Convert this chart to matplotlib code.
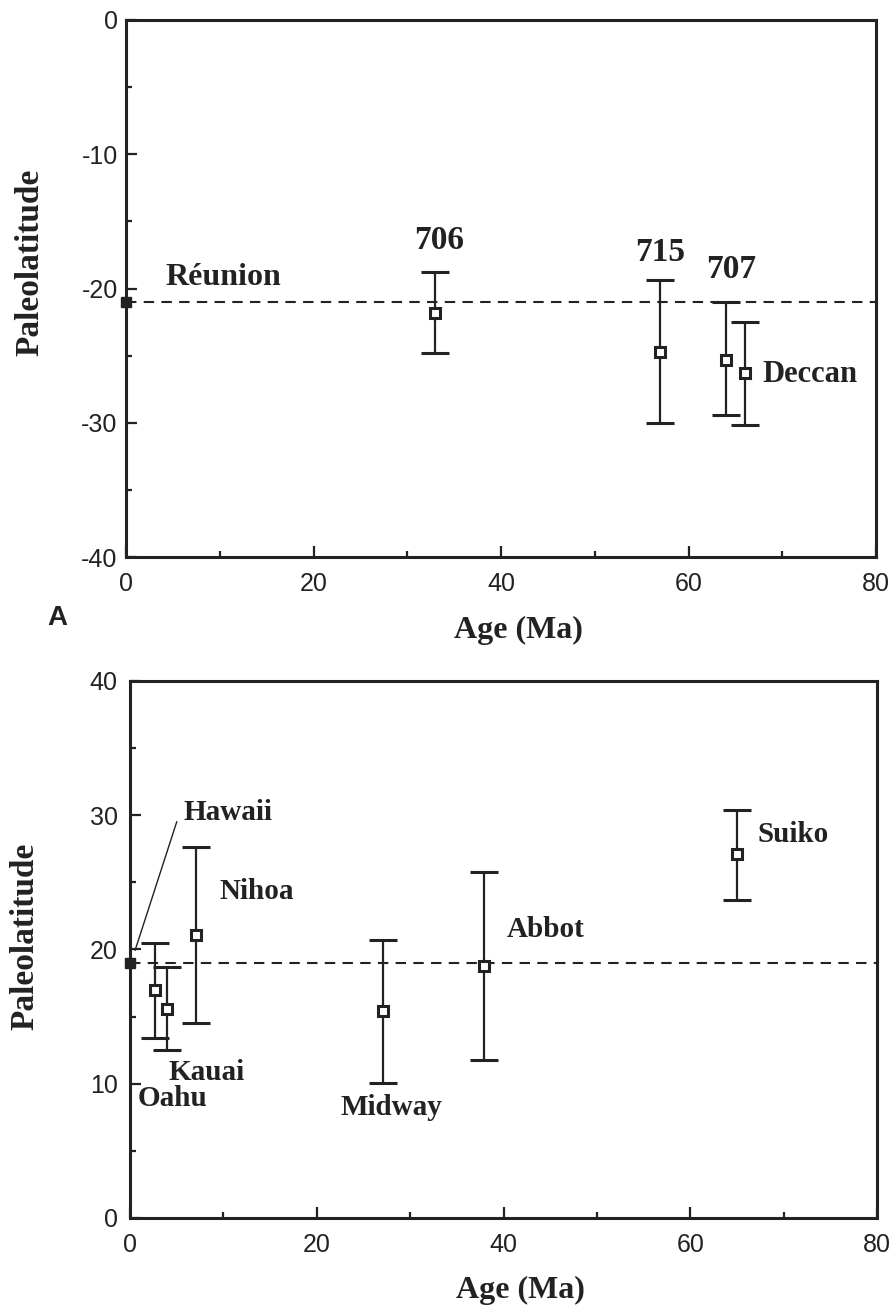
import matplotlib.pyplot as plt
from matplotlib.ticker import MultipleLocator

plt.rcParams['axes.unicode_minus'] = False

# panel A: Indian Ocean sites (Reunion hotspot)
a_names = ["Réunion", "706", "715", "707", "Deccan"]
a_age = [0, 33, 57, 64, 66]
a_lat = [-21.0, -21.8, -24.7, -25.3, -26.3]
a_hi = [-21.0, -18.8, -19.4, -21.0, -22.5]
a_lo = [-21.0, -24.8, -30.0, -29.4, -30.2]
a_ref = -21.0

# panel B: Hawaiian-Emperor chain
b_names = ["Hawaii", "Oahu", "Kauai", "Nihoa", "Midway", "Abbot", "Suiko"]
b_age = [0, 2.7, 4.0, 7.1, 27.1, 37.9, 65.0]
b_lat = [19.0, 17.0, 15.6, 21.1, 15.4, 18.8, 27.1]
b_hi = [19.0, 20.5, 18.7, 27.6, 20.7, 25.8, 30.4]
b_lo = [19.0, 13.4, 12.5, 14.5, 10.05, 11.8, 23.7]
b_ref = 19.0

ink = "#222222"
serif = ["Liberation Serif", "DejaVu Serif"]
sans = ["Liberation Sans Narrow", "Liberation Sans", "DejaVu Sans"]

fig = plt.figure(figsize=(8.93, 13.07), dpi=100)
ax1 = fig.add_axes([0.1411, 0.5738, 0.8399, 0.4109])
ax2 = fig.add_axes([0.1456, 0.0681, 0.8365, 0.4109])


def style(ax, ymin, ymax, ypad):
    ax.set_xlim(0, 80)
    ax.set_ylim(ymin, ymax)
    ax.xaxis.set_major_locator(MultipleLocator(20))
    ax.xaxis.set_minor_locator(MultipleLocator(10))
    ax.yaxis.set_major_locator(MultipleLocator(10))
    ax.yaxis.set_minor_locator(MultipleLocator(5))
    ax.tick_params(which="both", direction="in", color=ink, width=1.6,
                   top=False, right=False)
    ax.tick_params(which="major", length=8)
    ax.tick_params(which="minor", length=4)
    ax.tick_params(axis="x", pad=11)
    ax.tick_params(axis="y", pad=ypad)
    for lab in ax.get_xticklabels() + ax.get_yticklabels():
        lab.set_fontfamily(sans)
        lab.set_fontsize(18)
        lab.set_color(ink)
    for sp in ax.spines.values():
        sp.set_linewidth(2.2)
        sp.set_color(ink)
    ax.set_ylabel("Paleolatitude", fontfamily=serif, fontweight="bold",
                  fontsize=24, color=ink)


def draw(ax, age, lat, hi, lo, ref):
    ax.axhline(ref, color=ink, lw=1.5, ls=(0, (5, 3.5)))
    n = len(age)
    for i in range(n):
        if hi[i] == lo[i]:
            ax.plot(age[i], lat[i], "s", ms=7.5, mfc=ink, mec=ink,
                    clip_on=False, zorder=5)
        else:
            ax.errorbar(age[i], lat[i], yerr=[[lat[i] - lo[i]], [hi[i] - lat[i]]],
                        fmt="s", ms=6.5, mfc="white", mec=ink, mew=2.2,
                        ecolor=ink, elinewidth=1.6, capsize=10, capthick=1.7,
                        zorder=4)


style(ax1, -40, 0, 6)
style(ax2, 0, 40, 9)
draw(ax1, a_age, a_lat, a_hi, a_lo, a_ref)
draw(ax2, b_age, b_lat, b_hi, b_lo, b_ref)

ax1.yaxis.set_label_coords(-0.108, 0.549)
ax2.yaxis.set_label_coords(-0.12, 0.525)

lab = dict(fontfamily=serif, fontweight="bold", color=ink)
ax1.text(4.2, -19.2, "Réunion", ha="left", va="center", fontsize=23, **lab)
ax1.text(33.4, -16.4, "706", ha="center", va="center", fontsize=24, **lab)
ax1.text(57.0, -17.3, "715", ha="center", va="center", fontsize=24, **lab)
ax1.text(64.6, -18.6, "707", ha="center", va="center", fontsize=24, **lab)
ax1.text(67.9, -26.4, "Deccan", ha="left", va="center", fontsize=22, **lab)

ax2.text(5.7, 30.2, "Hawaii", ha="left", va="center", fontsize=21, **lab)
ax2.plot([5.0, 0.55], [29.5, 19.95], color=ink, lw=1.0)
ax2.text(9.6, 24.3, "Nihoa", ha="left", va="center", fontsize=21, **lab)
ax2.text(4.1, 10.8, "Kauai", ha="left", va="center", fontsize=21, **lab)
ax2.text(0.8, 8.9, "Oahu", ha="left", va="center", fontsize=21, **lab)
ax2.text(22.5, 8.2, "Midway", ha="left", va="center", fontsize=21, **lab)
ax2.text(40.3, 21.5, "Abbot", ha="left", va="center", fontsize=21, **lab)
ax2.text(67.2, 28.6, "Suiko", ha="left", va="center", fontsize=21, **lab)

fig.text(518 / 893, 1 - 630 / 1307, "Age (Ma)", ha="center", va="center",
         fontsize=23, **lab)
fig.text(520 / 893, 1 - 1290 / 1307, "Age (Ma)", ha="center", va="center",
         fontsize=23, **lab)
fig.text(57 / 893, 1 - 618 / 1307, "A", ha="center", va="center",
         fontsize=20, fontweight="bold", fontfamily=sans, color=ink)

fig.savefig("out.png", dpi=100, facecolor="white")
